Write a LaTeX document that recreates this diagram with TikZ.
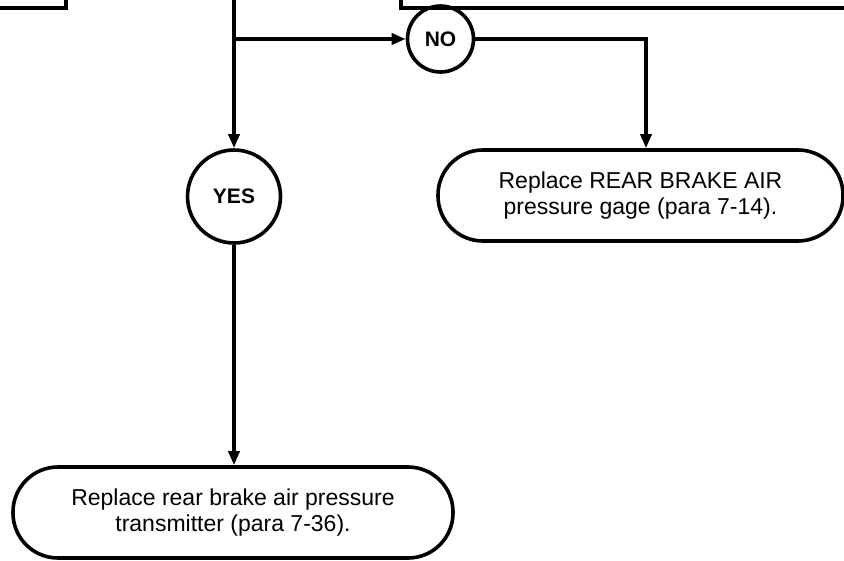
\documentclass[tikz,border=0pt]{standalone}
\usepackage{fontspec}
\setmainfont{Liberation Sans}
\usetikzlibrary{arrows.meta}
\begin{document}
\begin{tikzpicture}[x=1pt,y=-1pt,
  line/.style={line width=3.6pt},
  arr/.style={line, -{Triangle[length=14pt,width=11pt]}},
  decision/.style={circle, draw, line width=3.6pt, inner sep=0pt, font=\fontsize{21}{24}\selectfont\bfseries},
  action/.style={draw, line width=3.6pt, rounded corners=45pt, inner sep=0pt, align=center,
     font=\fontsize{23}{25.5}\selectfont}]
\useasboundingbox (0,0) rectangle (844,560);
% partial boxes at top
\draw[line] (0,8) -- (66,8) -- (66,0);
\draw[line] (401,0) -- (401,8) -- (844,8);
% nodes
\node[decision, minimum size=93pt] (yes) at (234,196.5) {YES};
\node[decision, minimum size=66pt] (no) at (440.5,39) {NO};
\node[action, minimum width=405pt, minimum height=91pt] (rbox) at (640.5,195.5)
  {Replace REAR BRAKE AIR\\pressure gage (para 7-14).};
\node[action, minimum width=440pt, minimum height=91pt] (bbox) at (233,512.5)
  {Replace rear brake air pressure\\transmitter (para 7-36).};
\coordinate (top) at (234,0);
\coordinate (split) at (234,39);
% connectors
\draw[arr] (top) -- (yes.north);
\draw[arr] (split) -- (no.west);
\draw[arr] (no.east) -| ([xshift=5.5pt]rbox.north);
\draw[arr] (yes.south) -- (yes.south |- bbox.north);
\end{tikzpicture}
\end{document}
